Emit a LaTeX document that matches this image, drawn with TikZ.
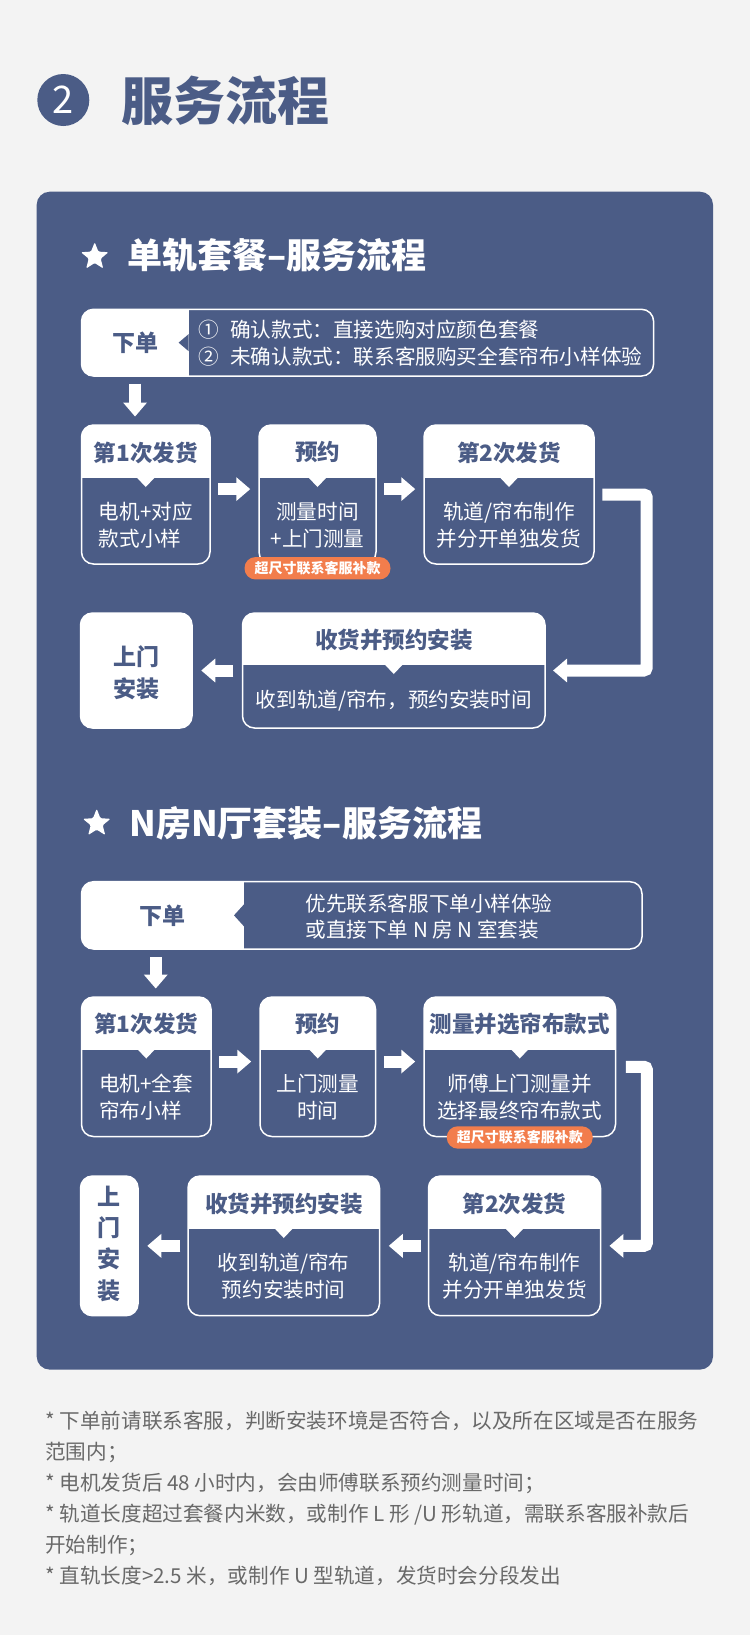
\documentclass[tikz,border=0pt]{standalone}
\usepackage{fontspec}
\setmainfont{Noto Sans CJK SC}
\usetikzlibrary{arrows.meta,shapes.geometric,fit}

\begin{document}
\begin{tikzpicture}[
  x=0.5pt, y=-0.5pt,
  every node/.style={inner sep=0pt},
  cardbox/.style={draw=white, line width=0.75pt, rounded corners=6pt},
  visitbox/.style={cardbox, fill=white},
  visittext/.style={text=panelblue, align=center,
    font=\fontsize{11.5}{15.8}\selectfont\bfseries},
  cardhead/.style={text=panelblue, font=\fontsize{11.25}{13}\selectfont\bfseries},
  cardbody/.style={text=white, align=center, font=\fontsize{10.3}{13.35}\selectfont},
  ordertag/.style={text=panelblue, font=\fontsize{11.5}{13}\selectfont\bfseries},
  ordertext/.style={text=white, align=left, font=\fontsize{10.3}{13.35}\selectfont},
  feetag/.style={fill=feeorange, rounded corners=5.5pt, minimum width=73pt,
    minimum height=11.2pt, text=white, font=\fontsize{7}{7}\selectfont\bfseries},
  fatarrow/.style={draw=white, line width=6pt, -{Triangle[length=7pt,width=11.5pt]}},
  bendarrow/.style={fatarrow, rounded corners=1.5pt},
  headstar/.style={star, star points=5, star point ratio=2.3, fill=white,
    minimum size=14.5pt, rounded corners=0.6pt},
  sectitle/.style={anchor=west, text=white, font=\fontsize{17.5}{20}\selectfont\bfseries},
]

\definecolor{pagebg}{RGB}{243,243,243}
\definecolor{panelblue}{RGB}{75,92,134}
\definecolor{feeorange}{RGB}{242,125,76}
\definecolor{notegray}{RGB}{105,105,105}

% ============================================================
% MACROS
% card: name, x left, y top, x right, y bottom, y divider,
%       header, body, extra body options
% ============================================================
\def\flowcard#1#2#3#4#5#6#7#8#9{%
  \node[cardbox, fit={(#2,#3) (#4,#5)}] (#1) {};
  \begin{scope}
    \clip[rounded corners=6pt] (#2,#3) rectangle (#4,#5);
    \fill[white] (#2,#3) rectangle (#4,#6);
    \fill[white] ({(#2+#4)/2-8.5},#6) -- ({(#2+#4)/2},{#6+9})
      -- ({(#2+#4)/2+8.5},#6) -- cycle;
  \end{scope}
  \node[cardhead] (#1-head) at ({(#2+#4)/2},{(#3+#6)/2+1}) {#7};
  \node[cardbody, #9] (#1-body) at ({(#2+#4)/2},{(#6+#5)/2+4}) {#8};
}
% order box: name, x left, y top, x right, y bottom, x split, notch half height
\def\orderbox#1#2#3#4#5#6#7{%
  \node[cardbox, fit={(#2,#3) (#4,#5)}] (#1) {};
  \begin{scope}
    \clip[rounded corners=6pt] (#2,#3) rectangle (#4,#5);
    \fill[white] (#2,#3) rectangle (#6,#5);
  \end{scope}
  \fill[panelblue] (#6,{(#3+#5)/2-#7}) -- ({#6-10},{(#3+#5)/2})
    -- (#6,{(#3+#5)/2+#7}) -- cycle;
  \node[fit={(#2,#3) (#6,#5)}] (#1-tag) {};
  \node[ordertag] (#1-label) at (#1-tag.center) {下单};
}

\useasboundingbox (0,0) rectangle (750,1635);
\fill[pagebg] (0,0) rectangle (750,1635);

% ============================================================
% TITLE
% ============================================================
\node[circle, fill=panelblue, minimum size=26pt, text=white,
      font=\fontsize{19}{19}\selectfont] (numbadge) at (63.3,100) {2};
\node[anchor=west, text=panelblue, font=\fontsize{26}{28}\selectfont\bfseries]
  (pagetitle) at (121,101) {服务流程};

% ============================================================
% PANEL
% ============================================================
\node[fit={(36.7,191.7) (713,1369.6)}, fill=panelblue, rounded corners=6.5pt]
  (panel) {};

% ============================================================
% SECTION 1
% ============================================================
\node[headstar] (star1) at (94.7,256.7) {};
\node[sectitle] (sect1-title) at (127,255) {单轨套餐–服务流程};

\orderbox{order1}{81.5}{309.3}{653.6}{376}{188.6}{8.5}
\node[ordertext, anchor=west] (order1-text) at (198,343)
  {①\hspace{0.55em}确认款式：直接选购对应颜色套餐\\
   ②\hspace{0.55em}未确认款式：联系客服购买全套帘布小样体验};

% row 1
\flowcard{ship1a}{81.5}{425}{210}{564}{478}{第1次发货}{电机+对应\\款式小样}{align=left}
\flowcard{appt1}{259}{425}{376}{564}{478}{预约}{测量时间\\+上门测量}{}
\flowcard{ship1b}{424}{425}{594}{564}{478}{第2次发货}{轨道/帘布制作\\并分开单独发货}{}
\node[feetag] (fee1) at ([yshift=-1.75pt]appt1.south) {超尺寸联系客服补款};

% row 2
\node[visitbox, fit={(80.5,613) (192,728)}] (visit1) {};
\node[visittext] (visit1-text) at ([yshift=-1pt]visit1.center) {上门\\安装};
\flowcard{recv1}{242.5}{613}{545}{728}{665}{收货并预约安装}{收到轨道/帘布，预约安装时间}{}

% arrows
\draw[fatarrow, shorten <=3.6pt, shorten >=3.85pt]
  (order1-tag.south) -- (order1-tag.south |- ship1a.north);
\draw[fatarrow, shorten <=3.75pt, shorten >=4pt]
  ([yshift=2.7pt]ship1a.east) -- ([yshift=2.7pt]appt1.west);
\draw[fatarrow, shorten <=3.75pt, shorten >=4pt]
  ([yshift=2.7pt]appt1.east) -- ([yshift=2.7pt]ship1b.west);
\coordinate (turn1) at (646.7,0);
\draw[bendarrow, shorten <=3.85pt, shorten >=3.65pt]
  (ship1b.east) -- (ship1b.east -| turn1) -- (turn1 |- recv1.east) -- (recv1.east);
\draw[fatarrow, shorten <=4.25pt, shorten >=4.25pt] (recv1.west) -- (visit1.east);

% ============================================================
% SECTION 2
% ============================================================
\node[headstar] (star2) at (96.7,823.3) {};
\node[sectitle] (sect2-title) at (129,823) {N房N厅套装–服务流程};

\orderbox{order2}{81.5}{881.7}{642}{949}{244}{11}
\node[ordertext, anchor=west] (order2-text) at (305,916.5)
  {优先联系客服下单小样体验\\或直接下单 N 房 N 室套装};

% row 1
\flowcard{ship2a}{81.5}{997}{211}{1136.5}{1049.5}{第1次发货}{电机+全套\\帘布小样}{align=left}
\flowcard{appt2}{260}{997}{375.5}{1136.5}{1049.5}{预约}{上门测量\\时间}{}
\flowcard{measure2}{424}{997}{615.5}{1136.5}{1049.5}{测量并选帘布款式}{师傅上门测量并\\选择最终帘布款式}{}
\node[feetag] (fee2) at ([yshift=-0.1pt]measure2.south) {超尺寸联系客服补款};

% row 2
\node[visitbox, fit={(80.5,1176) (138,1315.7)}] (visit2) {};
\node[visittext, font=\fontsize{11.5}{15.6}\selectfont\bfseries]
  (visit2-text) at ([yshift=1pt]visit2.center) {上\\门\\安\\装};
\flowcard{recv2}{188}{1176}{379.5}{1315.7}{1229}{收货并预约安装}{收到轨道/帘布\\预约安装时间}{}
\flowcard{ship2b}{428.5}{1176}{600.5}{1315.7}{1229}{第2次发货}{轨道/帘布制作\\并分开单独发货}{}

% arrows
\coordinate (drop2) at ([xshift=-3.5pt]order2-tag.south);
\draw[fatarrow, shorten <=3.85pt, shorten >=3.85pt] (drop2) -- (drop2 |- ship2a.north);
\draw[fatarrow, shorten <=3.75pt, shorten >=4pt]
  ([yshift=2.6pt]ship2a.east) -- ([yshift=2.6pt]appt2.west);
\draw[fatarrow, shorten <=3.75pt, shorten >=4pt]
  ([yshift=2.6pt]appt2.east) -- ([yshift=2.6pt]measure2.west);
\coordinate (turn2) at (646.8,0);
\draw[bendarrow, shorten <=4.75pt, shorten >=4.1pt]
  (measure2.east) -- (measure2.east -| turn2) -- (turn2 |- ship2b.east) -- (ship2b.east);
\draw[fatarrow, shorten <=3.5pt, shorten >=4.25pt] (ship2b.west) -- (recv2.east);
\draw[fatarrow, shorten <=3.5pt, shorten >=4.25pt] (recv2.west) -- (visit2.east);

% ============================================================
% NOTES
% ============================================================
\node[anchor=north west, align=left, text=notegray,
      font=\fontsize{10.3}{15.5}\selectfont] (notes) at (45,1410.5)
  {* 下单前请联系客服，判断安装环境是否符合，以及所在区域是否在服务\\
   范围内；\\
   * 电机发货后 48 小时内，会由师傅联系预约测量时间；\\
   * 轨道长度超过套餐内米数，或制作 L 形 /U 形轨道，需联系客服补款后\\
   开始制作；\\
   * 直轨长度>2.5 米，或制作 U 型轨道，发货时会分段发出};

\end{tikzpicture}
\end{document}
